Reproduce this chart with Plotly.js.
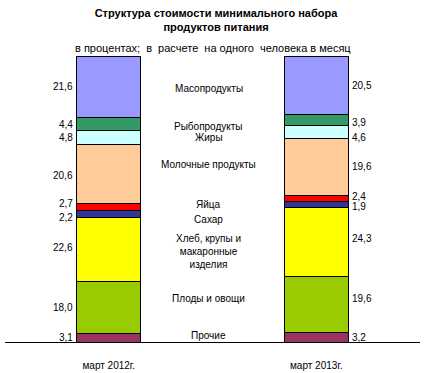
<!DOCTYPE html>
<html><head><meta charset="utf-8">
<script src="https://cdn.plot.ly/plotly-3.0.1.min.js"></script>
<style>body{margin:0;background:#fff}#c{width:432px;height:373px}</style>
</head><body><div id="c"></div>
<script>
const categories = ["март 2012г.", "март 2013г."];
const products = ["Прочие", "Плоды и овощи", "Хлеб, крупы и<br>макаронные<br>изделия", "Сахар", "Яйца", "Молочные продукты", "Жиры", "Рыбопродукты", "Масопродукты"];
const values2012 = [3.1, 18.0, 22.6, 2.2, 2.7, 20.6, 4.8, 4.4, 21.6];
const values2013 = [3.2, 19.6, 24.3, 1.9, 2.4, 19.6, 4.6, 3.9, 20.5];
const colors = ["#993366", "#99CC00", "#FFFF00", "#333399", "#FF0000", "#FFCC99", "#CCFFFF", "#339966", "#9999FF"];
// pixel nudges for labels (style only)
const midShift = [2, 8, -6, -10, -2, 6, -3, -4, -2];
const leftShift = [0, 0, 2, -4, 3, -2, 0, 0, 0];
const rightShift = [0, 6, 4, -2, 2, 0, -5, -2, 0];

const fmt = v => v.toFixed(1).replace('.', ',');
const W = 0.308;
const traces = products.map((p, i) => ({
  type: 'bar', x: categories, y: [values2012[i], values2013[i]], width: W,
  marker: {color: colors[i], line: {color: '#000', width: 1}}, hoverinfo: 'none', name: p
}));

const ann = [];
let c1 = 0, c2 = 0;
products.forEach((p, i) => {
  const m1 = c1 + values2012[i] / 2, m2 = c2 + values2013[i] / 2;
  c1 += values2012[i]; c2 += values2013[i];
  ann.push({x: 0 - W / 2, y: m1, xref: 'x', yref: 'y', text: fmt(values2012[i]), showarrow: false, xanchor: 'right', xshift: -2, yshift: leftShift[i]});
  ann.push({x: 1 + W / 2, y: m2, xref: 'x', yref: 'y', text: fmt(values2013[i]), showarrow: false, xanchor: 'left', xshift: 2, yshift: rightShift[i]});
  ann.push({x: 0.5, y: (m1 + m2) / 2, xref: 'x', yref: 'y', text: p, showarrow: false, xanchor: 'center', xshift: -4, yshift: midShift[i]});
});
ann.push({x: 0.5, y: 1.0385, xref: 'paper', yref: 'paper', text: 'в процентах;  в  расчете  на одного  человека в месяц', showarrow: false, font: {size: 11}, yshift: 5});

Plotly.newPlot('c', traces, {
  width: 432, height: 373, barmode: 'stack', showlegend: false,
  margin: {l: 5, r: 12, t: 56, b: 31},
  paper_bgcolor: '#fff', plot_bgcolor: '#fff',
  font: {family: 'Liberation Sans, Arial, sans-serif', size: 10, color: '#000'},
  title: {text: '<b>Структура стоимости минимального набора<br>продуктов питания</b>', x: 0.5, xref: 'container', y: 1 - 17 / 373, yanchor: 'middle', font: {size: 11}},
  xaxis: {type: 'category', range: [-0.5, 1.5], showline: true, linecolor: '#000', linewidth: 1, ticks: '', showgrid: false, zeroline: false, ticklabelstandoff: 14, fixedrange: true},
  yaxis: {range: [0, 100], visible: false, fixedrange: true},
  annotations: ann
}, {displayModeBar: false, staticPlot: true});
</script></body></html>
